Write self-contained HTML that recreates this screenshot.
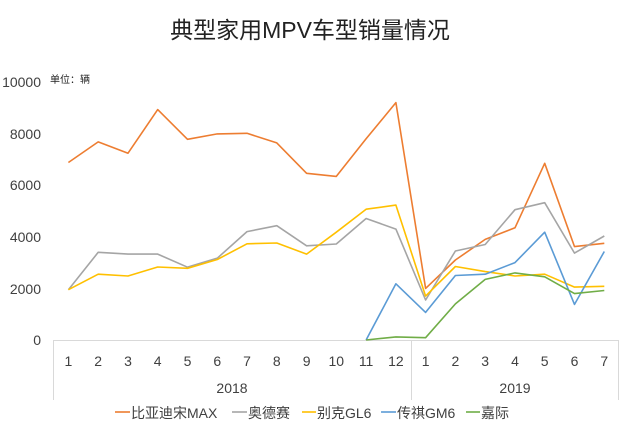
<!DOCTYPE html>
<html><head><meta charset="utf-8"><style>
html,body{margin:0;padding:0;background:#fff;}
svg text{font-family:"Liberation Sans","Noto Sans CJK SC",sans-serif;fill:#404040;}
</style></head><body>
<svg width="620" height="433" viewBox="0 0 620 433" xmlns="http://www.w3.org/2000/svg">
<rect width="620" height="433" fill="#fff"/>
<text x="310" y="38" text-anchor="middle" font-size="23" style="fill:#222">典型家用MPV车型销量情况</text>
<text x="50" y="83" font-size="10" style="fill:#222">单位：辆</text>
<g font-size="14" text-anchor="end">
<text x="41" y="345">0</text>
<text x="41" y="294">2000</text>
<text x="41" y="242">4000</text>
<text x="41" y="190">6000</text>
<text x="41" y="139">8000</text>
<text x="41" y="87">10000</text>
</g>
<g stroke="#d9d9d9" stroke-width="1">
<line x1="53" y1="340.5" x2="618" y2="340.5"/>
<line x1="53.5" y1="340" x2="53.5" y2="400"/>
<line x1="411.5" y1="340" x2="411.5" y2="400"/>
<line x1="618.5" y1="340" x2="618.5" y2="400"/>
</g>
<g font-size="14" text-anchor="middle">
<text x="68.4" y="366">1</text><text x="98.2" y="366">2</text><text x="128" y="366">3</text><text x="157.7" y="366">4</text><text x="187.5" y="366">5</text><text x="217.3" y="366">6</text><text x="247" y="366">7</text><text x="276.8" y="366">8</text><text x="306.6" y="366">9</text><text x="336.3" y="366">10</text><text x="366.1" y="366">11</text><text x="395.9" y="366">12</text>
<text x="425.6" y="366">1</text><text x="455.4" y="366">2</text><text x="485.2" y="366">3</text><text x="515" y="366">4</text><text x="544.7" y="366">5</text><text x="574.5" y="366">6</text><text x="604.3" y="366">7</text>
<text x="232" y="393">2018</text><text x="515" y="393">2019</text>
</g>
<g fill="none" stroke-width="1.6" stroke-linejoin="round">
<polyline stroke="#ED7D31" points="68.4,162.5 98.2,141.9 128,153.2 157.7,109.6 187.5,139.3 217.3,133.9 247,133.3 276.8,142.9 306.6,173.3 336.3,176.4 366.1,138.8 395.9,102.6 425.6,288.4 455.4,260 485.2,239.4 515,227.8 544.7,163.3 574.5,246.6 604.3,243.3"/>
<polyline stroke="#A5A5A5" points="68.4,289.7 98.2,252.3 128,254.1 157.7,254.1 187.5,267.2 217.3,258.2 247,231.6 276.8,225.7 306.6,245.8 336.3,244 366.1,218.5 395.9,229.1 425.6,300 455.4,251 485.2,244.5 515,209.7 544.7,202.7 574.5,253.1 604.3,236"/>
<polyline stroke="#FFC000" points="68.4,289.7 98.2,274.2 128,276 157.7,267 187.5,268.3 217.3,259.5 247,243.8 276.8,243 306.6,254.1 336.3,232.2 366.1,209.2 395.9,205.1 425.6,296.1 455.4,266.5 485.2,271.6 515,276 544.7,274.2 574.5,287.1 604.3,286.3"/>
<polyline stroke="#5B9BD5" points="366.1,340 395.9,283.8 425.6,312.4 455.4,275.5 485.2,274.2 515,262.6 544.7,232.2 574.5,304.4 604.3,251.5"/>
<polyline stroke="#70AD47" points="366.1,340 395.9,336.9 425.6,337.7 455.4,303.9 485.2,279.4 515,272.9 544.7,276.8 574.5,293.6 604.3,290.5"/>
</g>
<g stroke-width="1.6">
<line x1="115" y1="412" x2="130" y2="412" stroke="#ED7D31"/>
<line x1="232" y1="412" x2="247" y2="412" stroke="#A5A5A5"/>
<line x1="302" y1="412" x2="316" y2="412" stroke="#FFC000"/>
<line x1="381" y1="412" x2="396" y2="412" stroke="#5B9BD5"/>
<line x1="466" y1="412" x2="480" y2="412" stroke="#70AD47"/>
</g>
<g font-size="14">
<text x="131" y="418">比亚迪宋MAX</text>
<text x="248" y="418">奥德赛</text>
<text x="317" y="418">别克GL6</text>
<text x="397" y="418">传祺GM6</text>
<text x="481" y="418">嘉际</text>
</g>
</svg>
</body></html>
